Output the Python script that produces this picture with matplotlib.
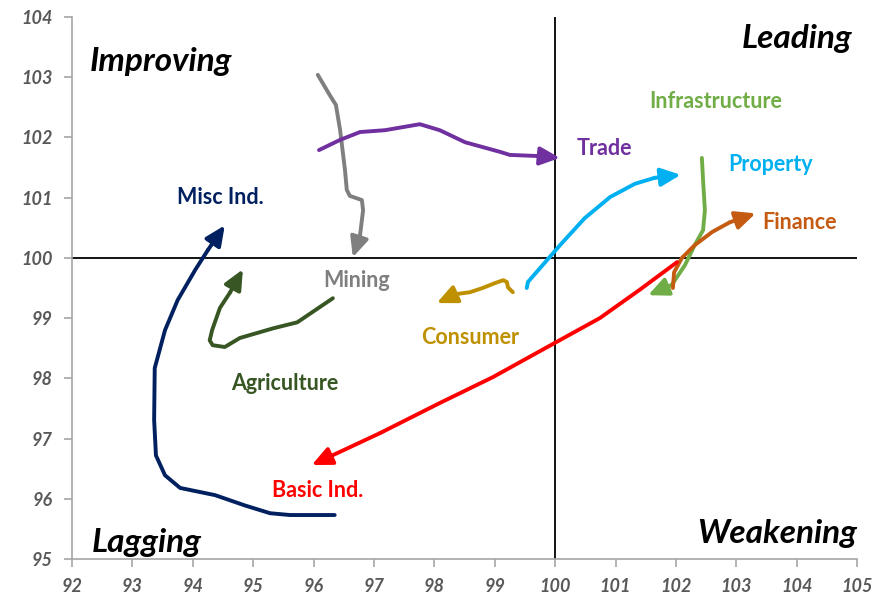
import matplotlib.pyplot as plt

plt.rcParams['font.family'] = ['Lato', 'DejaVu Sans']

# sector tails (x = RS-ratio, y = RS-momentum), last point is the arrow tip
misc_x = [96.35, 95.61, 95.28, 94.86, 94.37, 93.79, 93.54, 93.39, 93.36, 93.37, 93.54, 93.75, 94.04, 94.25, 94.53]
misc_y = [95.73, 95.73, 95.76, 95.89, 96.06, 96.18, 96.39, 96.72, 97.31, 98.17, 98.80, 99.30, 99.80, 100.13, 100.54]

mining_x = [96.07, 96.27, 96.37, 96.44, 96.52, 96.55, 96.60, 96.80, 96.82, 96.77, 96.65]
mining_y = [103.04, 102.70, 102.54, 102.12, 101.46, 101.13, 101.03, 100.96, 100.79, 100.38, 100.01]

trade_x = [96.09, 96.44, 96.77, 97.18, 97.76, 98.09, 98.51, 99.09, 99.25, 99.75, 100.08]
trade_y = [101.79, 101.96, 102.09, 102.12, 102.22, 102.12, 101.92, 101.76, 101.71, 101.69, 101.66]

property_x = [99.53, 99.55, 99.75, 100.08, 100.49, 100.91, 101.32, 101.65, 102.08]
property_y = [99.50, 99.60, 99.83, 100.21, 100.66, 101.01, 101.23, 101.33, 101.38]

infra_x = [102.43, 102.45, 102.48, 102.45, 102.31, 102.15, 101.93, 101.54]
infra_y = [101.66, 101.29, 100.79, 100.46, 100.21, 99.88, 99.55, 99.38]

finance_x = [101.95, 101.97, 102.10, 102.31, 102.60, 102.89, 103.32]
finance_y = [99.50, 99.76, 100.00, 100.21, 100.43, 100.59, 100.74]

basic_x = [102.02, 101.40, 100.74, 99.98, 98.97, 98.09, 97.10, 95.97]
basic_y = [99.93, 99.47, 99.00, 98.58, 98.02, 97.59, 97.09, 96.56]

consumer_x = [99.30, 99.22, 99.20, 99.14, 99.00, 98.80, 98.59, 98.37, 98.04]
consumer_y = [99.43, 99.51, 99.60, 99.63, 99.58, 99.50, 99.43, 99.40, 99.25]

agri_x = [96.32, 95.73, 95.33, 94.78, 94.53, 94.33, 94.28, 94.32, 94.45, 94.62, 94.83]
agri_y = [99.33, 98.93, 98.83, 98.67, 98.52, 98.55, 98.63, 98.80, 99.17, 99.43, 99.81]

sectors = [
    ('Misc Ind.', misc_x, misc_y, '#002060', (94.45, 101.0)),
    ('Mining', mining_x, mining_y, '#7f7f7f', (96.72, 99.63)),
    ('Trade', trade_x, trade_y, '#7030a0', (100.82, 101.82)),
    ('Infrastructure', infra_x, infra_y, '#70ad47', (102.66, 102.6)),
    ('Property', property_x, property_y, '#00b0f0', (103.57, 101.55)),
    ('Finance', finance_x, finance_y, '#c55a11', (104.04, 100.58)),
    ('Consumer', consumer_x, consumer_y, '#bf9000', (98.59, 98.68)),
    ('Agriculture', agri_x, agri_y, '#375623', (95.52, 97.92)),
    ('Basic Ind.', basic_x, basic_y, '#ff0000', (96.06, 96.14)),
]

fig = plt.figure(figsize=(8.9, 6.01), dpi=100)
ax = fig.add_axes([0.0809, 0.0699, 0.8821, 0.9018])

ax.axvline(100, color='black', lw=1.3, zorder=1)
ax.axhline(100, color='black', lw=1.3, zorder=1)

for name, xs, ys, col, pos in sectors:
    ax.plot(xs[:-1], ys[:-1], color=col, lw=2.8, solid_capstyle='round',
            solid_joinstyle='round', zorder=3)
    ax.annotate('', xy=(xs[-1], ys[-1]), xytext=(xs[-2], ys[-2]),
                arrowprops=dict(arrowstyle='-|>,head_length=1.2,head_width=0.55',
                                color=col, lw=2.8, shrinkA=0, shrinkB=0),
                zorder=3)
    ax.text(pos[0], pos[1], name, color=col, fontsize=15.5, fontweight='bold',
            ha='center', va='center')

quad = dict(fontsize=24, fontweight='bold', fontstyle='italic', color='black', va='center')
ax.text(92.3, 103.26, 'Improving', ha='left', **quad)
ax.text(104.93, 103.65, 'Leading', ha='right', **quad)
ax.text(92.33, 95.27, 'Lagging', ha='left', **quad)
ax.text(105.0, 95.43, 'Weakening', ha='right', **quad)

ax.set_xlim(92, 105)
ax.set_ylim(95, 104)
ax.set_xticks(range(92, 106))
ax.set_yticks(range(95, 105))
for s in ['top', 'right']:
    ax.spines[s].set_visible(False)
for s in ['left', 'bottom']:
    ax.spines[s].set_color('#a6a6a6')
    ax.spines[s].set_linewidth(1.2)
ax.tick_params(direction='out', length=6, width=1.2, color='#a6a6a6',
               labelcolor='#595959', labelsize=13, pad=8)
for lab in ax.get_xticklabels() + ax.get_yticklabels():
    lab.set_fontweight('bold')
    lab.set_fontstyle('italic')

fig.savefig('out.png', dpi=100)
